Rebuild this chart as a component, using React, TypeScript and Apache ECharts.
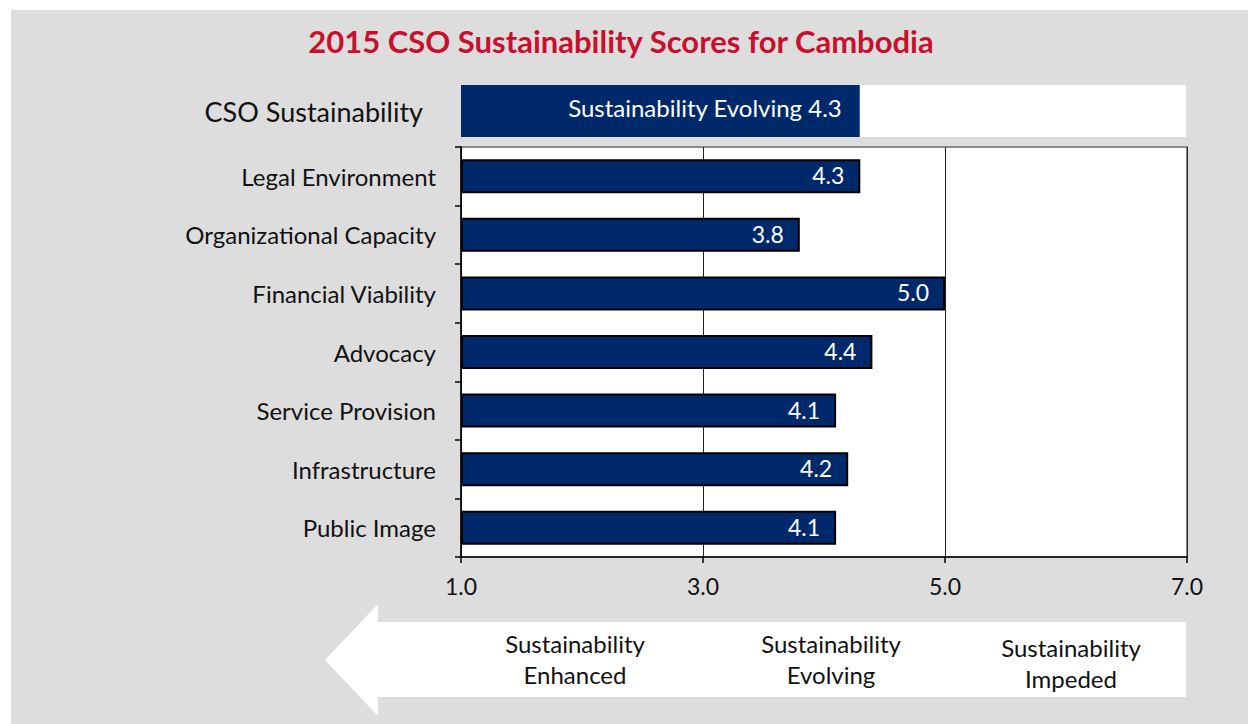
import React, { useEffect, useRef } from "react";
import * as echarts from "echarts";

const titleText = "2015 CSO Sustainability Scores for Cambodia";
const categories = [
  "Legal Environment",
  "Organizational Capacity",
  "Financial Viability",
  "Advocacy",
  "Service Provision",
  "Infrastructure",
  "Public Image",
];
const scores = [4.3, 3.8, 5.0, 4.4, 4.1, 4.2, 4.1];
const overallCategory = ["CSO Sustainability"];
const overallScore = [4.3];
const overallLabel = "Sustainability Evolving";
const axisMin = 1;
const axisMax = 7;
const axisInterval = 2;
const scaleLabels = [
  { text: "Sustainability\nEnhanced", x: 575, y: 659 },
  { text: "Sustainability\nEvolving", x: 831, y: 659 },
  { text: "Sustainability\nImpeded", x: 1071, y: 663 },
];

const NAVY = "#00296b";
const FONT = "Lato, 'Open Sans', sans-serif";

export default function App() {
  const ref = useRef<HTMLDivElement>(null);
  useEffect(() => {
    if (!ref.current) return;
    const chart = echarts.init(ref.current, null, { renderer: "svg" });
    chart.setOption({
      animation: false,
      backgroundColor: "transparent",
      textStyle: { fontFamily: FONT },
      title: {
        text: titleText,
        left: 616,
        top: 20,
        textAlign: "center",
        textStyle: { color: "#c8102e", fontSize: 31, fontWeight: "bold", fontFamily: FONT },
      },
      grid: [
        {
          left: 461,
          top: 147,
          width: 726,
          height: 410,
          show: true,
          backgroundColor: "#ffffff",
          borderColor: "#8a8a8a",
          borderWidth: 2,
        },
        {
          left: 461,
          top: 85,
          width: 725,
          height: 52,
          show: true,
          backgroundColor: "#ffffff",
          borderWidth: 0,
        },
      ],
      xAxis: [
        {
          type: "value",
          gridIndex: 0,
          min: axisMin,
          max: axisMax,
          interval: axisInterval,
          startValue: axisMin,
          axisLine: { show: true, lineStyle: { color: "#000", width: 1.5 } },
          axisTick: { show: true, length: 6, lineStyle: { color: "#000", width: 1.5 } },
          axisLabel: {
            color: "#111",
            fontSize: 23,
            margin: 17,
            fontFamily: FONT,
            formatter: (v: number) => v.toFixed(1),
          },
          splitLine: { show: true, lineStyle: { color: "#222", width: 1 } },
        },
        {
          type: "value",
          gridIndex: 1,
          min: axisMin,
          max: axisMax,
          interval: axisInterval,
          startValue: axisMin,
          show: false,
          splitLine: { show: false },
        },
      ],
      yAxis: [
        {
          type: "category",
          gridIndex: 0,
          data: categories,
          inverse: true,
          axisLine: { show: true, lineStyle: { color: "#000", width: 1.5 } },
          axisTick: { show: true, length: 6, alignWithLabel: false, lineStyle: { color: "#000", width: 1.5 } },
          axisLabel: { color: "#111", fontSize: 24, margin: 25, fontFamily: FONT, padding: [0, 0, 4, 0] },
        },
        {
          type: "category",
          gridIndex: 1,
          data: overallCategory,
          axisLine: { show: false },
          axisTick: { show: false },
          axisLabel: { color: "#111", fontSize: 27, margin: 38, fontFamily: FONT, padding: [0, 0, 8, 0] },
        },
      ],
      series: [
        {
          type: "bar",
          xAxisIndex: 0,
          yAxisIndex: 0,
          data: scores,
          barWidth: 34,
          clip: true,
          itemStyle: { color: NAVY, borderColor: "#000", borderWidth: 2 },
          label: {
            show: true,
            position: "insideRight",
            distance: 16,
            offset: [0, -1],
            color: "#fff",
            fontSize: 23,
            fontFamily: FONT,
            formatter: (p: any) => Number(p.value).toFixed(1),
          },
        },
        {
          type: "bar",
          xAxisIndex: 1,
          yAxisIndex: 1,
          data: overallScore,
          barWidth: 52,
          clip: true,
          itemStyle: { color: NAVY },
          label: {
            show: true,
            position: "insideRight",
            distance: 18,
            offset: [0, -4],
            color: "#fff",
            fontSize: 24,
            fontFamily: FONT,
            formatter: (p: any) => `${overallLabel} ${Number(p.value).toFixed(1)}`,
          },
        },
      ],
      graphic: [
        {
          type: "polygon",
          z: 1,
          shape: {
            points: [
              [325, 660],
              [378, 604],
              [378, 622],
              [1186, 622],
              [1186, 697],
              [378, 697],
              [378, 716],
            ],
          },
          style: { fill: "#ffffff" },
        },
        ...scaleLabels.map((s) => ({
          type: "text",
          z: 2,
          x: s.x,
          y: s.y,
          style: {
            text: s.text,
            fill: "#111",
            fontSize: 24,
            fontFamily: FONT,
            lineHeight: 31,
            align: "center",
            verticalAlign: "middle",
          },
        })),
      ],
    });
    return () => chart.dispose();
  }, []);
  return (
    <div style={{ position: "fixed", left: 0, top: 0, width: 1248, height: 724, background: "#ffffff" }}>
      <div style={{ position: "absolute", left: 11, top: 10, width: 1237, height: 714, background: "#dddddd" }} />
      <div ref={ref} style={{ position: "absolute", left: 0, top: 0, width: 1248, height: 724 }} />
    </div>
  );
}
